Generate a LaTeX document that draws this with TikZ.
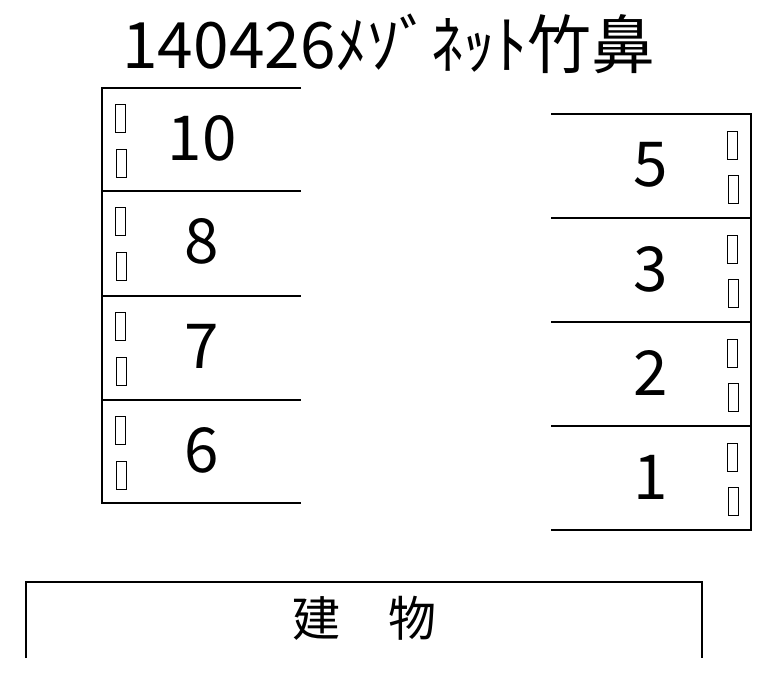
\documentclass[tikz,border=0pt]{standalone}
\usepackage{fontspec}
\setmainfont{Noto Sans CJK JP}
\begin{document}
\begin{tikzpicture}[x=1pt,y=-1pt,
    slotline/.style={line width=2.8pt},
    tofu/.style={draw,line width=0.9pt,minimum width=10pt,minimum height=28pt,inner sep=0pt},
    num/.style={font=\fontsize{62}{62}\selectfont}]
\useasboundingbox (0,0) rectangle (783,678);
\node[font=\fontsize{64}{64}\selectfont] (title) at (389,44) {140426ﾒｿﾞﾈｯﾄ竹鼻};
% left row
\draw[slotline] (301,88) -- (102,88) -- (102,503) -- (301,503);
\foreach \y/\n [count=\i] in {88/10,191/8,296/7,400/6}{
    \draw[slotline] (102,\y) -- (301,\y);
    \node[num] (L\i) at (202,\y+50) {\n};
    \node[tofu] (La\i) at (120.5,\y+30) {};
    \node[tofu] (Lb\i) at (121.5,\y+75) {};
}
% right row
\draw[slotline] (551,114) -- (751,114) -- (751,530) -- (551,530);
\foreach \y/\n [count=\i] in {114/5,218/3,322/2,426/1}{
    \draw[slotline] (551,\y) -- (751,\y);
    \node[num] (R\i) at (651,\y+51) {\n};
    \node[tofu] (Ra\i) at (732.5,\y+31) {};
    \node[tofu] (Rb\i) at (733.5,\y+75) {};
}
% building
\draw[slotline] (26,658) -- (26,582) -- (702,582) -- (702,658);
\node[font=\fontsize{48}{48}\selectfont] (bldg) at (364,618) {建　物};
\end{tikzpicture}
\end{document}
